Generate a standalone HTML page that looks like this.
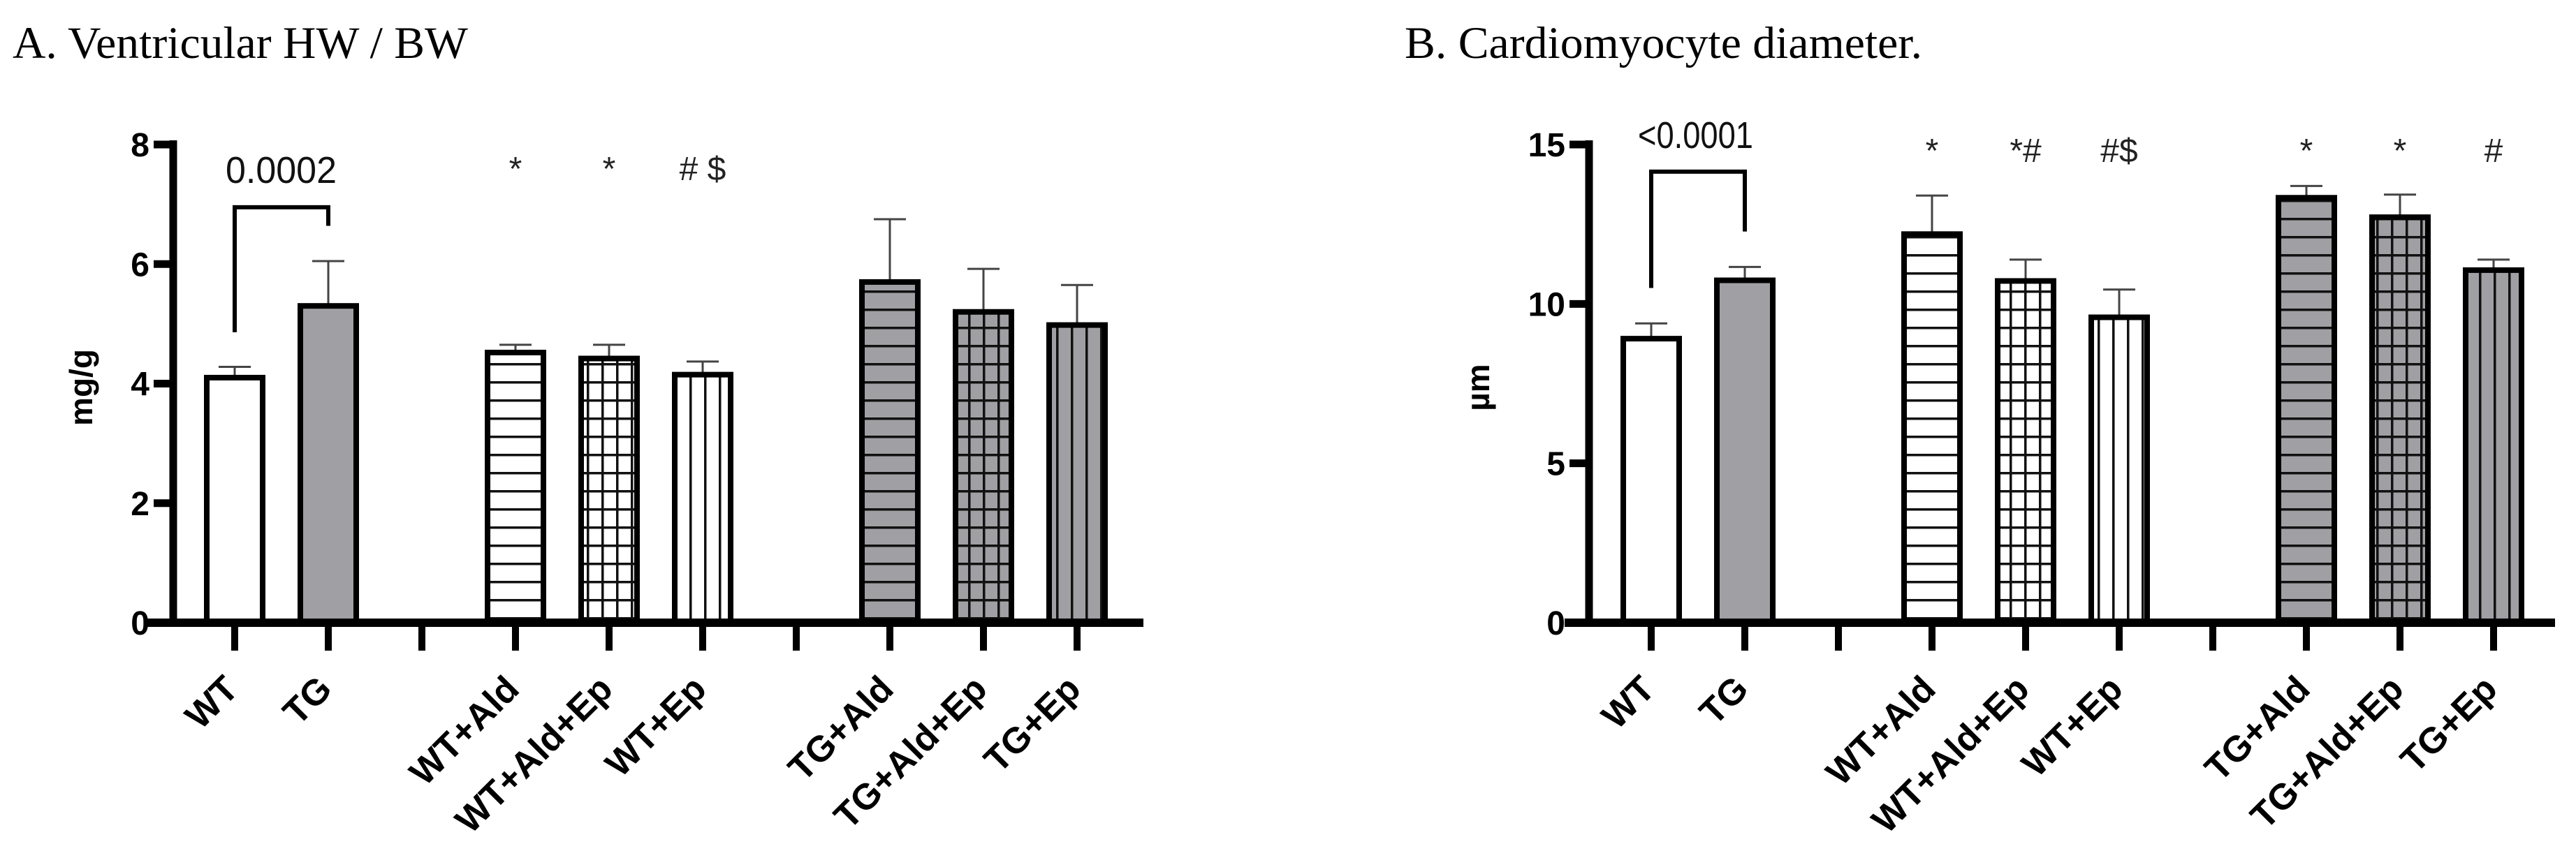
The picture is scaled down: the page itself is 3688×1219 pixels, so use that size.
<!DOCTYPE html>
<html><head><meta charset="utf-8"><style>
html,body{margin:0;padding:0;background:#fff;}
svg{display:block;}
text{font-family:"Liberation Sans",sans-serif;}
</style></head><body>
<svg id="fig" width="3688" height="1219" viewBox="0 0 3688 1219" xmlns="http://www.w3.org/2000/svg">
<defs>
<pattern id="hW" width="20" height="26" patternUnits="userSpaceOnUse"><rect width="20" height="26" fill="#fff"/><rect y="0" width="20" height="3.5" fill="#111"/></pattern>
<pattern id="hG" width="20" height="26" patternUnits="userSpaceOnUse"><rect width="20" height="26" fill="#a0a0a4"/><rect y="0" width="20" height="3.5" fill="#111"/></pattern>
<pattern id="gW" width="21" height="26" patternUnits="userSpaceOnUse"><rect width="21" height="26" fill="#fff"/><rect y="0" width="21" height="3.5" fill="#111"/><rect x="0" width="3.5" height="26" fill="#111"/></pattern>
<pattern id="gG" width="21" height="26" patternUnits="userSpaceOnUse"><rect width="21" height="26" fill="#a0a0a4"/><rect y="0" width="21" height="3.5" fill="#111"/><rect x="0" width="3.5" height="26" fill="#111"/></pattern>
<pattern id="vW" width="21" height="26" patternUnits="userSpaceOnUse"><rect width="21" height="26" fill="#fff"/><rect x="0" width="3.5" height="26" fill="#111"/></pattern>
<pattern id="vG" width="21" height="26" patternUnits="userSpaceOnUse"><rect width="21" height="26" fill="#a0a0a4"/><rect x="0" width="3.5" height="26" fill="#111"/></pattern>
</defs>
<text x="18" y="83" font-size="65" textLength="652" lengthAdjust="spacingAndGlyphs" style="font-family:'Liberation Serif',serif">A. Ventricular HW / BW</text>
<text x="2011" y="83" font-size="65" textLength="741" lengthAdjust="spacingAndGlyphs" style="font-family:'Liberation Serif',serif">B. Cardiomyocyte diameter.</text>
</svg>
<script>
const cats = ["WT","TG","","WT+Ald","WT+Ald+Ep","WT+Ep","","TG+Ald","TG+Ald+Ep","TG+Ep"];
const fills = ["#fff","#a0a0a4",null,"url(#hW)","url(#gW)","url(#vW)",null,"url(#hG)","url(#gG)","url(#vG)"];
const valsA = [4.1,5.3,null,4.52,4.42,4.15,null,5.7,5.2,4.98];
const errA  = [4.28,6.05,null,4.65,4.65,4.37,null,6.75,5.92,5.65];
const ticksA = [0,2,4,6,8];
const annA = ["","",null,"*","*","# $",null,"","",""];
const valsB = [8.91,10.74,null,12.19,10.72,9.58,null,13.33,12.72,11.06];
const errB  = [9.39,11.16,null,13.4,11.39,10.45,null,13.7,13.43,11.39];
const ticksB = [0,5,10,15];
const annB = ["","",null,"*","*#","#$",null,"*","*","#"];

const NS="http://www.w3.org/2000/svg";
const svg=document.getElementById('fig');
function mk(tag,attrs,parent){const e=document.createElementNS(NS,tag);for(const k in attrs)e.setAttribute(k,attrs[k]);(parent||svg).appendChild(e);return e;}

function chart(o){
  const g=mk('g',{});
  
  
  const y0=892,y1=207;
  const ys=v=>y0-(v-o.min)/(o.max-o.min)*(y0-y1);
  const xs=i=>o.x0+i*134;
  cats.forEach((c,i)=>{
    const v=o.vals[i]; if(v==null) return;
    const cx=xs(i),w=80;
    const e=mk('line',{x1:cx,x2:cx,y1:ys(v),y2:ys(o.err[i]),stroke:'#444','stroke-width':3},g);
    
    
    const cap=mk('line',{x1:cx-23,x2:cx+23,y1:ys(o.err[i]),y2:ys(o.err[i]),stroke:'#444','stroke-width':3},g);
    
    
    const r=mk('rect',{x:cx-w/2,y:ys(v),width:w,height:y0-ys(v),fill:fills[i],stroke:'#000','stroke-width':8},g);
    
    
    const a=o.ann[i];
    if(a){const t=mk('text',{x:cx,y:o.annY,'font-size':48,'text-anchor':'middle',fill:'#222'},g);t.textContent=a;
      
      }
  });
  const xa=mk('line',{x1:o.axL,x2:o.axR,y1:y0,y2:y0,stroke:'#000','stroke-width':12},g);
  
  
  const ya=mk('line',{x1:o.yx,x2:o.yx,y1:y1-6,y2:y0,stroke:'#000','stroke-width':11},g);
  
  
  o.ticks.forEach(t=>{
    mk('line',{x1:o.yx-28,x2:o.yx,y1:ys(t),y2:ys(t),stroke:'#000','stroke-width':11},g);
    const tl=mk('text',{x:o.yx-34,y:ys(t)+17,'font-size':48,'font-weight':'bold','text-anchor':'end'},g);
    tl.textContent=t;
    
    
  });
  cats.forEach((c,i)=>{
    const cx=xs(i);
    mk('line',{x1:cx,x2:cx,y1:y0,y2:y0+40,stroke:'#000','stroke-width':10},g);
    if(c){const ax=cx+8, ay=y0+98;
      const t=mk('text',{x:ax,y:ay,'font-size':52,'font-weight':'bold','text-anchor':'end',transform:`rotate(-45 ${ax} ${ay})`},g);
      t.textContent=c;
      
      }
  });
  const yl=mk('text',{x:0,y:0,'font-size':46,'font-weight':'bold','text-anchor':'middle',transform:`translate(${o.ylx},${o.yly}) rotate(-90)`},g);
  yl.textContent=o.ylabel;
  
  
  const b=mk('path',{d:`M${xs(0)} ${ys(o.br[0])} V${ys(o.br[1])} H${xs(1)} V${ys(o.br[2])}`,fill:'none',stroke:'#000','stroke-width':6},g);
  
  
  const bt=mk('text',{x:o.btx,y:ys(o.br[3]),'font-size':54,textLength:o.btw,lengthAdjust:'spacingAndGlyphs',fill:'#111'},g);
  bt.textContent=o.btext;
  
  
}
chart({name:'chart-a',x0:336,min:0,max:8,vals:valsA,err:errA,ticks:ticksA,ann:annA,annY:258,axL:207,axR:1637,yx:248,ylabel:'mg/g',ylx:132,yly:555,br:[4.86,6.95,6.64,7.36],btext:'0.0002',btx:323,btw:159});
chart({name:'chart-b',x0:2364,min:0,max:15,vals:valsB,err:errB,ticks:ticksB,ann:annB,annY:232,axL:2240,axR:3658,yx:2275,ylabel:'µm',ylx:2132,yly:555,br:[10.5,14.15,12.27,14.89],btext:'<0.0001',btx:2345,btw:165});
</script>
</body></html>
